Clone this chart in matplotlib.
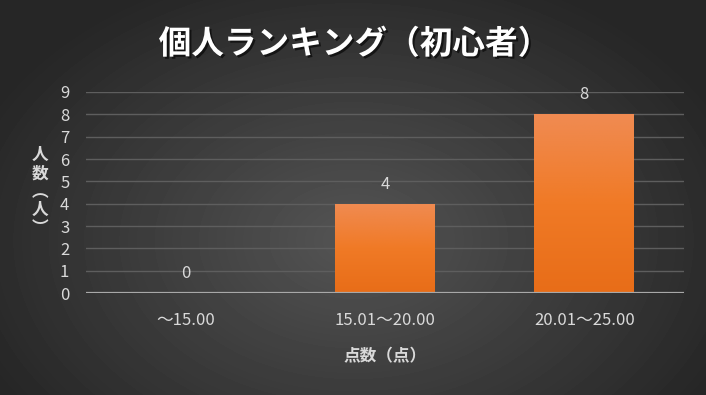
import numpy as np
import matplotlib.pyplot as plt
import matplotlib.patheffects as pe
from matplotlib.colors import LinearSegmentedColormap

categories = ['～15.00', '15.01～20.00', '20.01～25.00']
counts = [0, 4, 8]
yticks = list(range(0, 10))

plt.rcParams['font.family'] = ['Noto Sans CJK JP', 'DejaVu Sans']

fig = plt.figure(figsize=(7.06, 3.95), dpi=100)

# dark radial background
bg = fig.add_axes([0, 0, 1, 1], zorder=-10)
yy, xx = np.mgrid[0:395, 0:706]
r = np.sqrt(((xx - 353) / 430) ** 2 + ((yy - 240) / 300) ** 2)
shade = np.clip(0.33 - 0.19 * r, 0.15, 0.33)
bg.imshow(shade, cmap='gray', vmin=0, vmax=1, aspect='auto')
bg.axis('off')

ax = fig.add_axes([0.1218, 0.2582, 0.8470, 0.5089])
ax.patch.set_alpha(0)

x = np.arange(len(categories))
bars = ax.bar(x, counts, width=0.5, color='#ee7b2c', zorder=3)

# orange vertical gradient inside each bar
bar_cmap = LinearSegmentedColormap.from_list('bar', ['#e86d18', '#f07a26', '#f08b52'])
grad = np.linspace(0, 1, 256).reshape(-1, 1)
for b in bars:
    if b.get_height() <= 0:
        continue
    im = ax.imshow(grad, cmap=bar_cmap, origin='lower', aspect='auto', zorder=4,
                   extent=[b.get_x(), b.get_x() + b.get_width(), 0, b.get_height()])
    im.set_clip_path(b)

for xi, v in zip(x, counts):
    ax.annotate(str(v), (xi, v), xytext=(0, 14), textcoords='offset points',
                ha='center', va='center', color='#d9d9d9', fontsize=12)

ax.set_xlim(-0.5, 2.5)
ax.set_ylim(0, 9)
ax.set_yticks(yticks)
ax.set_xticks(x)
ax.set_xticklabels(categories)
ax.grid(axis='y', color='#5e5e5e', lw=1, zorder=0)
ax.set_axisbelow(True)
ax.axhline(0, color='#a8a8a8', lw=1.6, zorder=5)
for s in ax.spines.values():
    s.set_visible(False)
ax.tick_params(axis='both', length=0, colors='#d9d9d9', labelsize=12)
ax.tick_params(axis='y', pad=12)
ax.tick_params(axis='x', pad=14)

ax.set_xlabel('点数（点）', color='#d9d9d9', fontsize=12, fontweight='bold', labelpad=13)
fig.text(0.057, 0.515, '人\n数\n︵\n人\n︶', color='#d9d9d9', fontsize=12, fontweight='bold',
         ha='center', va='center', linespacing=1.02)

fig.text(0.502, 0.888, '個人ランキング（初心者）', color='white', fontsize=23.5, fontweight='bold',
         ha='center', va='center',
         path_effects=[pe.withSimplePatchShadow(offset=(1.5, -1.5), shadow_rgbFace='black', alpha=0.6)])

fig.savefig('out.png', dpi=100)
